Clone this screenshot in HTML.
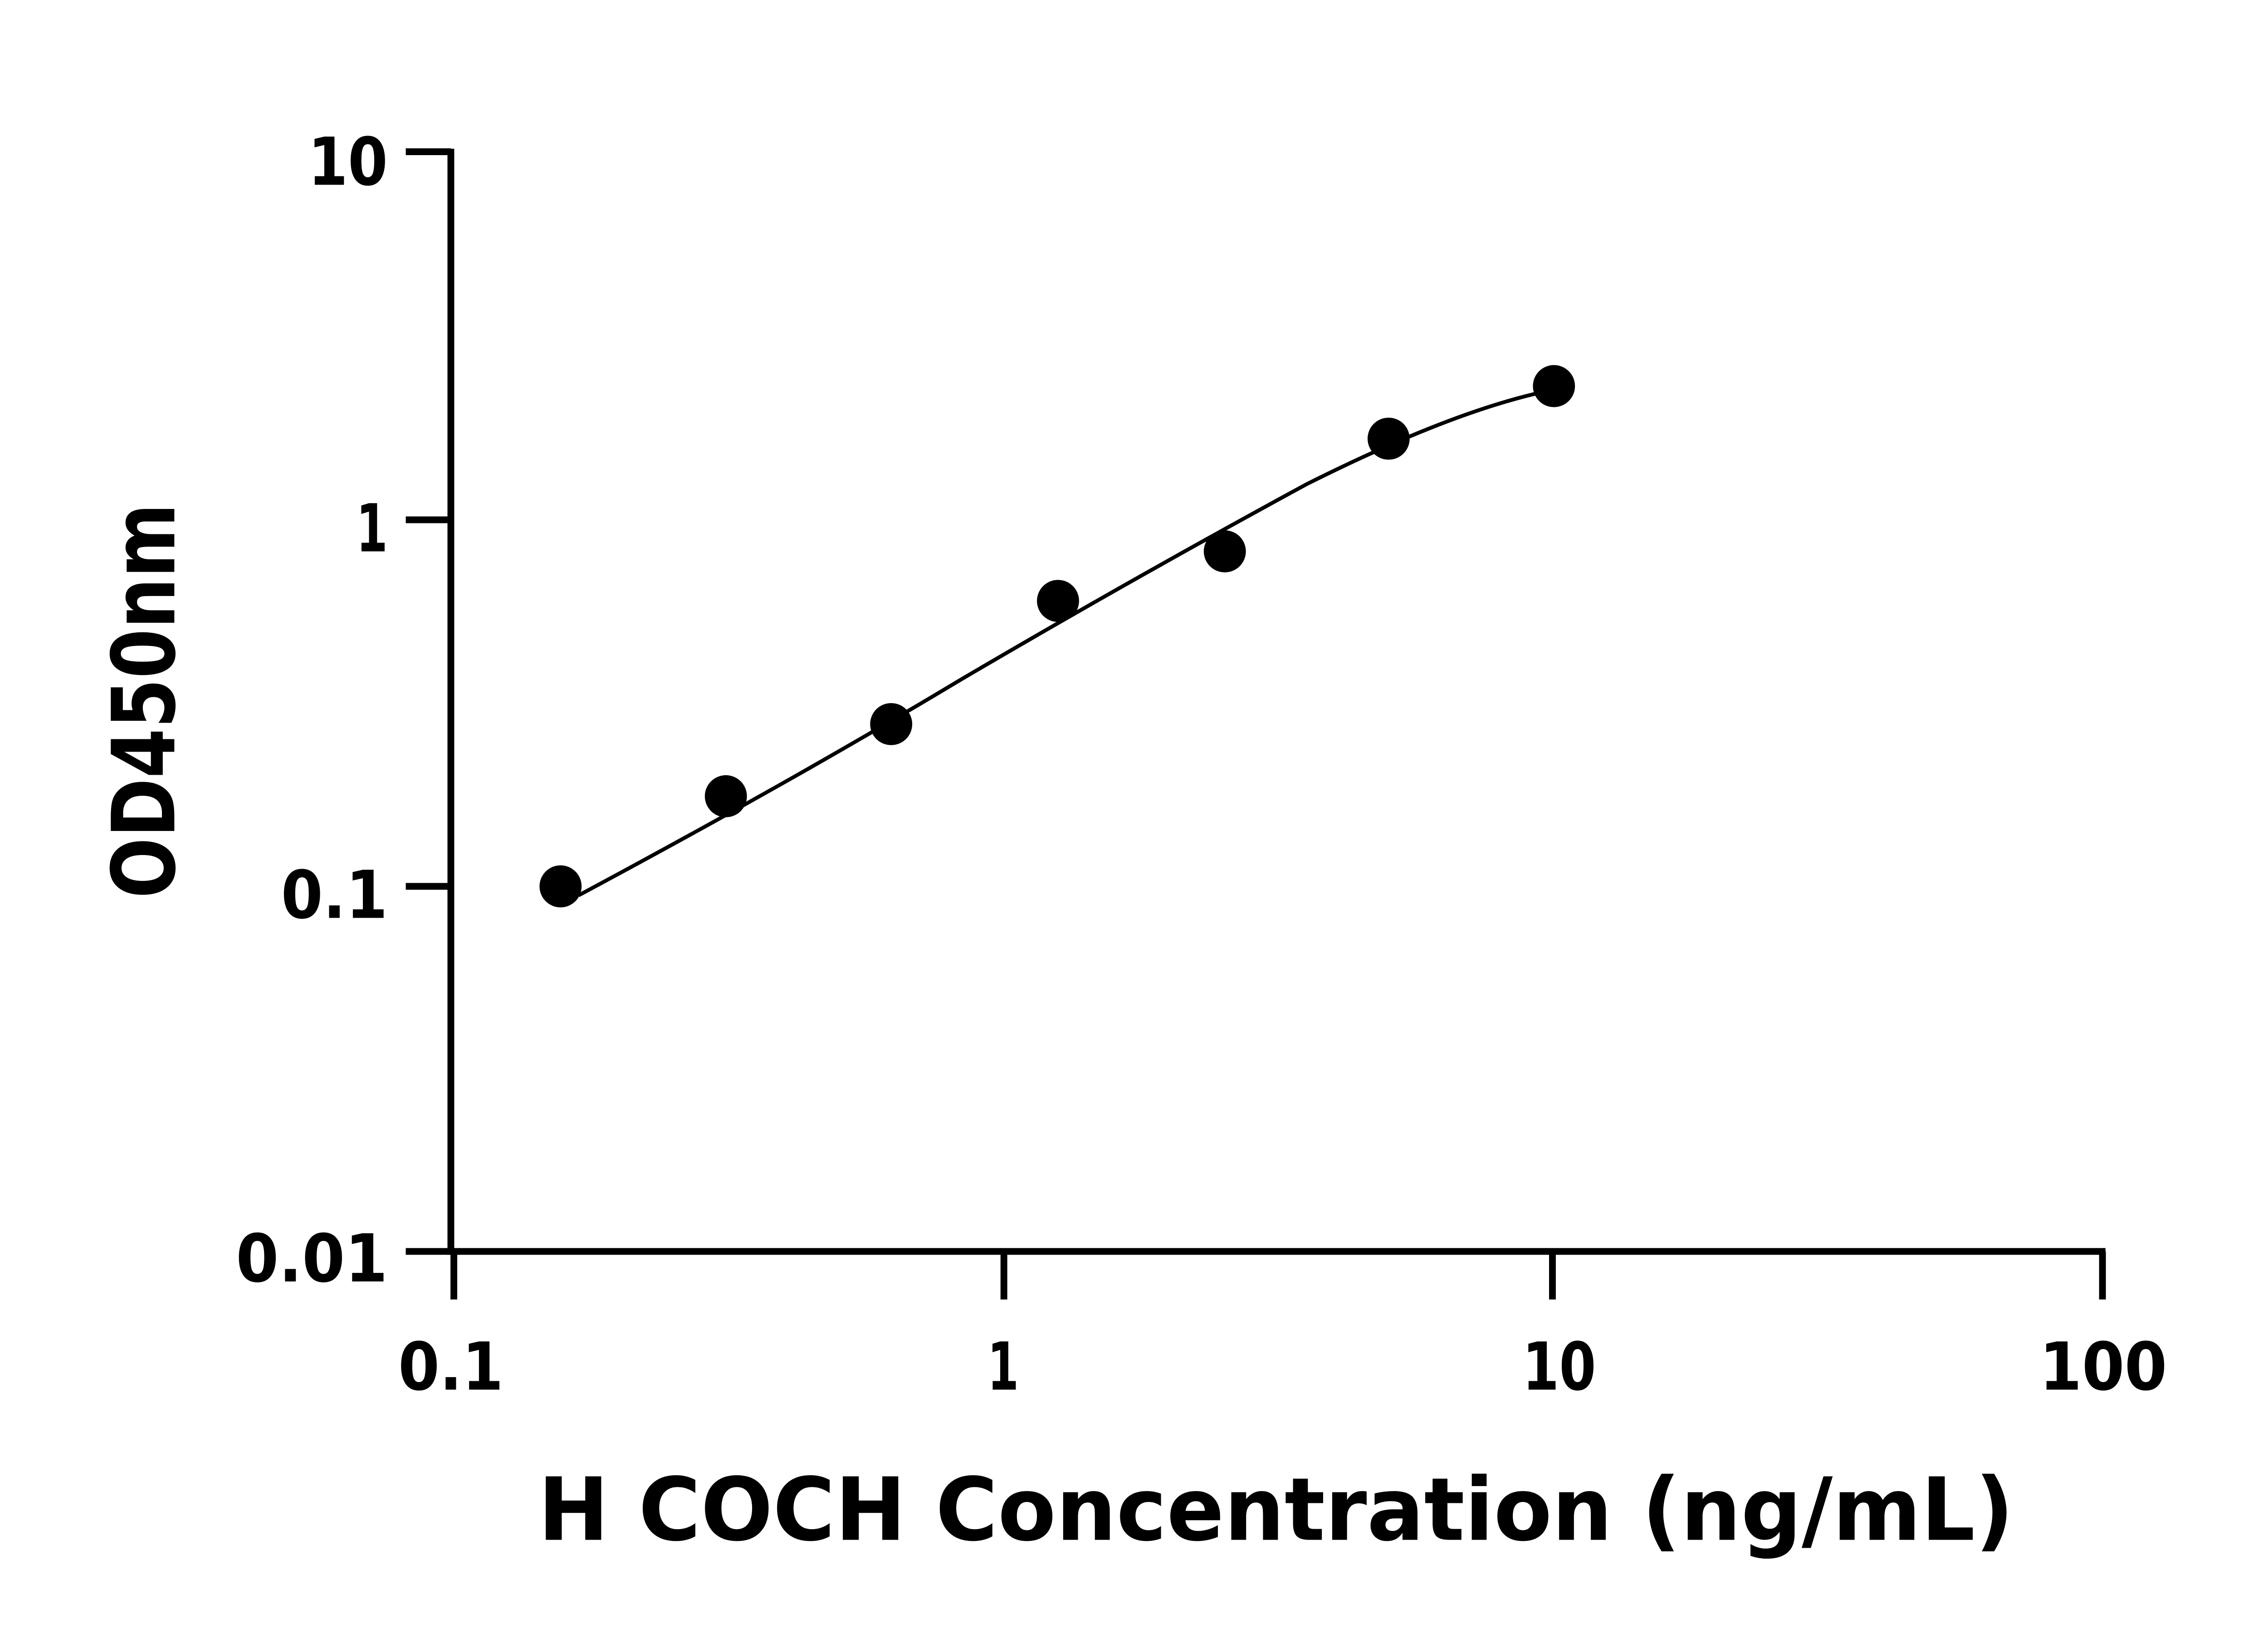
<!DOCTYPE html>
<html><head><meta charset="utf-8"><style>html,body{margin:0;padding:0;background:#fff}svg{display:block}</style></head>
<body>
<svg width="5142" height="3600" viewBox="0 0 1552 1087" preserveAspectRatio="none" xmlns="http://www.w3.org/2000/svg">
<rect width="1552" height="1087" fill="#fff"/>
<g stroke="#000" stroke-width="4.5" fill="none">
<line x1="300" y1="99" x2="300" y2="835"/>
<line x1="298" y1="833" x2="1401" y2="833"/>
<line x1="270" y1="101" x2="300" y2="101"/>
<line x1="270" y1="346" x2="300" y2="346"/>
<line x1="270" y1="590" x2="300" y2="590"/>
<line x1="270" y1="833" x2="300" y2="833"/>
<line x1="302" y1="833" x2="302" y2="865"/>
<line x1="668" y1="833" x2="668" y2="865"/>
<line x1="1033" y1="833" x2="1033" y2="865"/>
<line x1="1399" y1="833" x2="1399" y2="865"/>
</g>
<path d="M385,596 C480,545 560,500 640,452 C720,405 800,360 870,322 C930,292 980,272 1022,262" stroke="#000" stroke-width="2.5" fill="none"/>
<g fill="#000">
<circle cx="373" cy="590" r="14"/>
<circle cx="483" cy="530" r="14"/>
<circle cx="593" cy="482" r="14"/>
<circle cx="704" cy="400" r="14"/>
<circle cx="815" cy="367" r="14"/>
<circle cx="924" cy="292" r="14"/>
<circle cx="1034" cy="257" r="14"/>
</g>
<g font-family="DejaVu Sans, Liberation Sans, sans-serif" font-weight="bold" font-size="44" fill="#000">
<text x="205" y="123" textLength="53" lengthAdjust="spacingAndGlyphs">10</text>
<text x="237" y="367" textLength="21" lengthAdjust="spacingAndGlyphs">1</text>
<text x="187" y="611" textLength="71" lengthAdjust="spacingAndGlyphs">0.1</text>
<text x="157" y="853" textLength="101" lengthAdjust="spacingAndGlyphs">0.01</text>
<text x="265" y="925" textLength="70" lengthAdjust="spacingAndGlyphs">0.1</text>
<text x="657" y="925" textLength="21" lengthAdjust="spacingAndGlyphs">1</text>
<text x="1013" y="925" textLength="49" lengthAdjust="spacingAndGlyphs">10</text>
<text x="1357" y="925" textLength="85" lengthAdjust="spacingAndGlyphs">100</text>
<text x="358" y="1025" font-size="58" textLength="982" lengthAdjust="spacingAndGlyphs">H COCH Concentration (ng/mL)</text>
<text transform="translate(116,598) rotate(-90)" font-size="58" textLength="263" lengthAdjust="spacingAndGlyphs">OD450nm</text>
</g>
</svg>
</body></html>
